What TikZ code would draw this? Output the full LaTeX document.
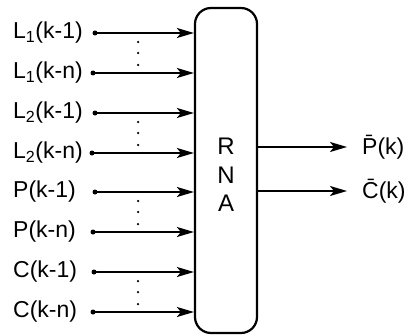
\documentclass[tikz,border=0pt]{standalone}
\usepackage{fontspec}
\setmainfont{Liberation Sans}
\usetikzlibrary{arrows.meta}
\begin{document}
\begin{tikzpicture}[x=1pt,y=-1pt,
  lbl/.style={anchor=west,inner sep=0pt,font=\fontsize{23}{26}\selectfont},
  olbl/.style={anchor=west,inner sep=0pt,font=\fontsize{23}{26}\selectfont},
  arr/.style={line width=1.8pt,-{Stealth[length=17pt,width=10pt,inset=4pt]}},
  srcdot/.style={circle,fill=black,inner sep=0pt,minimum size=5pt},
  vdot/.style={circle,fill=black,inner sep=0pt,minimum size=2.5pt},
  rna/.style={draw,line width=2.2pt,rounded corners=16pt,minimum width=62pt,minimum height=325pt,inner sep=0pt}
]
\useasboundingbox (0,0) rectangle (411,334);
\node[rna] (box) at (226,170.5) {};
\node[align=center,inner sep=0pt,font=\fontsize{24}{28.5}\selectfont] (txt) at (226,175) {R\\N\\A};
% inputs
\foreach \i/\y/\dx/\t in {1/33/95/{L\textsubscript{1}(k-1)},
                           2/73/93/{L\textsubscript{1}(k-n)},
                           3/113/95/{L\textsubscript{2}(k-1)},
                           4/153/92/{L\textsubscript{2}(k-n)},
                           5/192/95/{P(k-1)},
                           6/232/93/{P(k-n)},
                           7/272/94/{C(k-1)},
                           8/312/93/{C(k-n)}}{
  \node[lbl] (l\i) at (13,\y) {\t};
  \node[srcdot] (s\i) at (\dx,\y) {};
  \coordinate (e\i) at (box.west |- s\i);
  \draw[arr] (s\i.center) -- (e\i);
}
\foreach \y in {33,113,192,272}{
  \node[vdot] (va\y) at (138,\y+9) {};
  \node[vdot] (vb\y) at (138,\y+20) {};
  \node[vdot] (vc\y) at (138,\y+32) {};
}
% outputs
\coordinate (o1s) at (box.east |- 0,147);
\coordinate (o2s) at (box.east |- 0,191);
\node[olbl] (op) at (362,147) {\=P(k)};
\node[olbl] (oc) at (362,191) {\=C(k)};
\draw[arr] (o1s) -- (347,147) coordinate (o1e);
\draw[arr] (o2s) -- (347,191) coordinate (o2e);
\end{tikzpicture}
\end{document}
